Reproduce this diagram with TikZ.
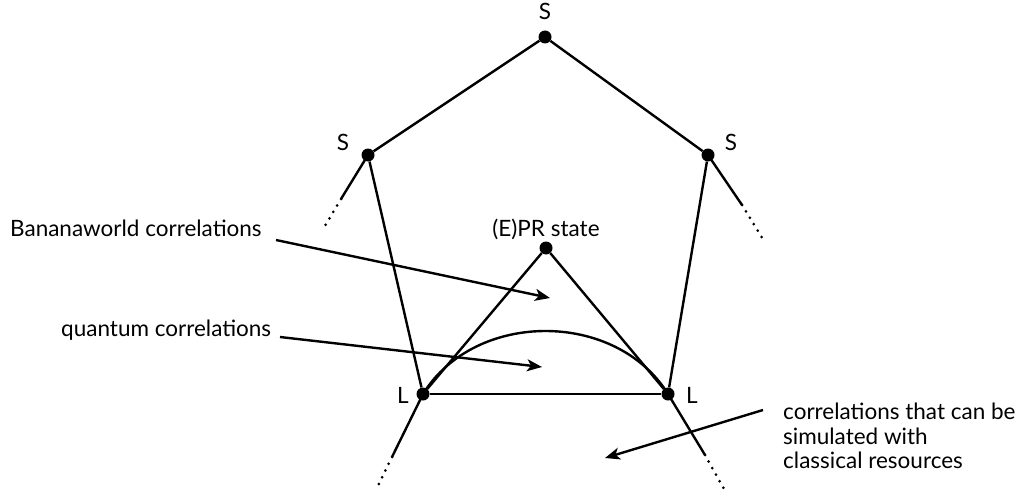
\documentclass[tikz,border=0pt]{standalone}
\usepackage{fontspec}
\setmainfont{Lato}
\usetikzlibrary{arrows.meta}
\begin{document}
\begin{tikzpicture}[x=1pt,y=-1pt,
  dot/.style={circle,fill=black,inner sep=0pt,minimum size=13pt},
  edge/.style={line width=2.4pt},
  stub/.style={line width=2.4pt},
  dotted stub/.style={line width=3pt,line cap=round,dash pattern=on 0pt off 7.5pt},
  lbl/.style={font=\fontsize{22.5}{24.5}\selectfont,inner sep=0pt,anchor=base},
  arr/.style={line width=2.4pt,-{Stealth[length=15pt,width=12pt,inset=4pt]}}]
\useasboundingbox (0,0) rectangle (1032,492);
% vertices
\node[dot] (top) at (545,37) {};
\node[dot] (sl) at (368,155) {};
\node[dot] (sr) at (708,155) {};
\node[dot] (ll) at (423,394) {};
\node[dot] (lr) at (668,394) {};
\node[dot] (pr) at (546,248) {};
% vertex labels
\node[lbl] (ts) at (545,20) {S};
\node[lbl] (tsl) at (343,150) {S};
\node[lbl] (tsr) at (731,150) {S};
\node[lbl] (tll) at (403,403) {L};
\node[lbl] (tlr) at (692,403) {L};
\node[lbl] (tpr) at (546,236) {(E)PR state};
% polytope edges
\draw[edge] (top) -- (sl);
\draw[edge] (top) -- (sr);
\draw[edge] (sl) -- (ll);
\draw[edge] (sr) -- (lr);
\draw[edge] (ll) -- (lr);
\draw[edge] (ll) -- (pr);
\draw[edge] (lr) -- (pr);
\draw[edge] (ll.center) .. controls (475,310) and (616,310) .. (lr.center);
% stubs
\coordinate (a1) at (341,199);
\coordinate (a2) at (322,231);
\coordinate (b1) at (742,205);
\coordinate (b2) at (764,241);
\coordinate (c1) at (392,457);
\coordinate (c2) at (376,490);
\coordinate (d1) at (705,455);
\coordinate (d2) at (724,489);
\draw[stub] (sl.center) -- (a1);
\draw[dotted stub] (a1) -- (a2);
\draw[stub] (sr.center) -- (b1);
\draw[dotted stub] (b1) -- (b2);
\draw[stub] (ll.center) -- (c1);
\draw[dotted stub] (c1) -- (c2);
\draw[stub] (lr.center) -- (d1);
\draw[dotted stub] (d1) -- (d2);
% annotations
\node[lbl,anchor=base west] (tb) at (10,236) {Bananaworld correlations};
\node[lbl,anchor=base west] (tq) at (61,336) {quantum correlations};
\node[lbl,anchor=base west] (tc1) at (783,419) {correlations that can be};
\node[lbl,anchor=base west] (tc2) at (783,444) {simulated with};
\node[lbl,anchor=base west] (tc3) at (783,468) {classical resources};
\coordinate (eb) at (550,298);
\coordinate (eq) at (542,367);
\coordinate (ec) at (605,458);
\draw[arr] (276,240) -- (eb);
\draw[arr] (280,337) -- (eq);
\draw[arr] (763,410) -- (ec);
\end{tikzpicture}
\end{document}
